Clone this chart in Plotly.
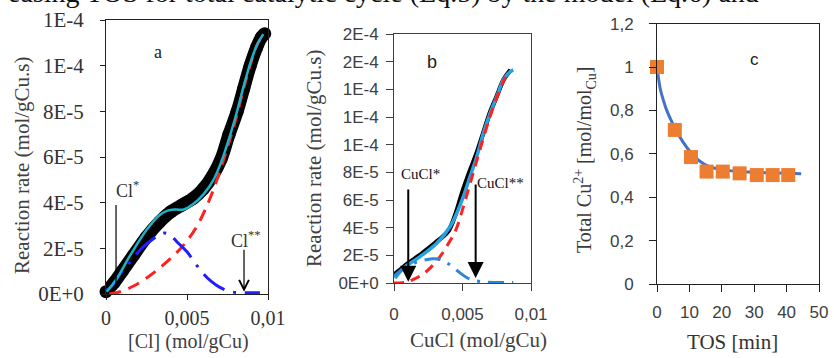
import plotly.graph_objects as go

W, H = 834, 358
def PX(x): return x / W
def PY(y): return 1 - y / H

SERIF = "Liberation Serif, Times New Roman, serif"
SANS = "Liberation Sans, Arial, sans-serif"

# ---------------- Panel a ----------------
a_exp_x = [0, 0.0005, 0.001, 0.0017, 0.0025, 0.0033, 0.004, 0.0047, 0.0054, 0.006,
           0.0066, 0.0071, 0.0076, 0.0081, 0.0085, 0.0089, 0.0093, 0.0096, 0.0098]
a_exp_y = [1e-6, 5e-6, 1.0e-5, 1.7e-5, 2.5e-5, 3.15e-5, 3.6e-5, 3.9e-5, 4.2e-5, 4.6e-5,
           5.2e-5, 5.9e-5, 7.0e-5, 8.0e-5, 9.0e-5, 1.0e-4, 1.08e-4, 1.125e-4, 1.14e-4]

a_tot_x = [0.00004, 0.0006, 0.0015, 0.0025, 0.0033, 0.0038, 0.0043, 0.0048, 0.0054, 0.006,
           0.0066, 0.0071, 0.00765, 0.00807, 0.00848, 0.00889, 0.0093, 0.00971]
a_tot_y = [1e-6, 6e-6, 1.7e-5, 2.8e-5, 3.45e-5, 3.65e-5, 3.7e-5, 3.7e-5, 3.95e-5, 4.35e-5,
           4.95e-5, 5.76e-5, 6.93e-5, 7.95e-5, 9.05e-5, 1.007e-4, 1.087e-4, 1.138e-4]

a_cl2_x = [0.0002, 0.00086, 0.0017, 0.0027, 0.0035, 0.0042, 0.0048, 0.0056, 0.0062, 0.0067,
           0.0072, 0.00765, 0.00807, 0.00848, 0.00889, 0.0093, 0.00971]
a_cl2_y = [0, 1e-6, 3.5e-6, 8e-6, 1.25e-5, 1.7e-5, 2.15e-5, 2.95e-5, 3.82e-5, 4.7e-5,
           5.76e-5, 6.78e-5, 7.8e-5, 8.97e-5, 9.99e-5, 1.087e-4, 1.138e-4]

a_cl1_x = [0, 0.0003, 0.0009, 0.0015, 0.0021, 0.0027, 0.0032, 0.0036, 0.004, 0.0045,
           0.005, 0.0055, 0.006, 0.0065, 0.007, 0.0077, 0.0085, 0.0095]
a_cl1_y = [1.5e-6, 3e-6, 9e-6, 1.4e-5, 1.93e-5, 2.3e-5, 2.55e-5, 2.67e-5, 2.55e-5, 2.2e-5,
           1.85e-5, 1.35e-5, 9e-6, 5.5e-6, 3e-6, 1e-6, 6e-7, 5e-7]

a_ytick_vals = [0, 2e-5, 4e-5, 6e-5, 8e-5, 1e-4, 1.2e-4]
a_ytick_text = ["0E+0", "2E-5", "4E-5", "6E-5", "8E-5", "1E-4", "1E-4"]
a_xtick_vals = [0, 0.005, 0.01]
a_xtick_text = ["0", "0,005", "0,01"]

# ---------------- Panel b ----------------
b_exp_x = [0, 0.0005, 0.001, 0.0015, 0.002, 0.0025, 0.003, 0.0035, 0.004, 0.0045,
           0.005, 0.0055, 0.006, 0.0065, 0.007, 0.0075, 0.008, 0.0085]
b_exp_y = [6e-6, 1.0e-5, 1.4e-5, 1.75e-5, 2.1e-5, 2.5e-5, 2.9e-5, 3.3e-5, 3.8e-5, 5.0e-5,
           6.6e-5, 8.0e-5, 9.3e-5, 1.08e-4, 1.23e-4, 1.35e-4, 1.47e-4, 1.54e-4]

b_tot_x = [0.00007, 0.00068, 0.0019, 0.00312, 0.00409, 0.00458, 0.00506, 0.00555, 0.00604,
           0.00652, 0.00701, 0.0075, 0.00798, 0.00847, 0.00871]
b_tot_y = [3.4e-6, 1.06e-5, 1.9e-5, 2.87e-5, 4.07e-5, 5.04e-5, 6.24e-5, 7.69e-5, 9.13e-5,
           1.082e-4, 1.227e-4, 1.347e-4, 1.468e-4, 1.528e-4, 1.54e-4]

b_cu2_x = [0, 0.0008, 0.0015, 0.0022, 0.0029, 0.0035, 0.004, 0.0045, 0.005, 0.0055,
           0.006, 0.0065, 0.007, 0.0075, 0.008, 0.0083]
b_cu2_y = [0, 5e-7, 3e-6, 7e-6, 1.35e-5, 2.1e-5, 2.9e-5, 3.8e-5, 5.3e-5, 7.0e-5,
           8.7e-5, 1.04e-4, 1.2e-4, 1.34e-4, 1.46e-4, 1.52e-4]

b_cu1_x = [0, 0.0007, 0.0014, 0.002, 0.0028, 0.0034, 0.0038, 0.0043, 0.0048, 0.0053,
           0.0058, 0.0065, 0.0075, 0.0087]
b_cu1_y = [5e-6, 1.05e-5, 1.4e-5, 1.6e-5, 1.75e-5, 1.7e-5, 1.5e-5, 1.15e-5, 7.5e-6, 4e-6,
           2e-6, 8e-7, 4e-7, 4e-7]

b_ytick_vals = [0, 2e-5, 4e-5, 6e-5, 8e-5, 1e-4, 1.2e-4, 1.4e-4, 1.6e-4, 1.8e-4]
b_ytick_text = ["0E+0", "2E-5", "4E-5", "6E-5", "8E-5", "1E-4", "1E-4", "1E-4", "2E-4", "2E-4"]
b_xtick_vals = [0, 0.005, 0.01]
b_xtick_text = ["0", "0,005", "0,01"]

# ---------------- Panel c ----------------
c_meas_x = [0, 5.5, 10.5, 15.3, 20.3, 25.5, 30.8, 35.7, 40.5]
c_meas_y = [1.0, 0.71, 0.585, 0.518, 0.518, 0.51, 0.502, 0.502, 0.502]
c_fit_x = [0, 1, 2, 3, 4.5, 6, 8, 10.5, 13, 16, 20, 25, 30, 35, 40, 44.5]
c_fit_y = [1.0, 0.9, 0.845, 0.8, 0.75, 0.705, 0.655, 0.605, 0.568, 0.542, 0.527, 0.519,
           0.515, 0.512, 0.51, 0.508]
c_ytick_vals = [0, 0.2, 0.4, 0.6, 0.8, 1.0, 1.2]
c_ytick_text = ["0", "0,2", "0,4", "0,6", "0,8", "1", "1,2"]
c_xtick_vals = [0, 10, 20, 30, 40, 50]
c_xtick_text = ["0", "10", "20", "30", "40", "50"]

fig = go.Figure()

# panel a traces
fig.add_trace(go.Scatter(x=a_exp_x, y=a_exp_y, mode="lines+markers", cliponaxis=False,
                         line=dict(color="black", width=13, shape="spline"),
                         marker=dict(color="black", size=13), xaxis="x", yaxis="y"))
fig.add_trace(go.Scatter(x=a_cl2_x, y=a_cl2_y, mode="lines",
                         line=dict(color="#FF2020", width=3, dash="12px,8px", shape="spline"),
                         xaxis="x", yaxis="y"))
fig.add_trace(go.Scatter(x=a_cl1_x, y=a_cl1_y, mode="lines",
                         line=dict(color="#1E1EFF", width=3, dash="26px,9px,3px,9px", shape="spline"),
                         xaxis="x", yaxis="y"))
fig.add_trace(go.Scatter(x=a_tot_x, y=a_tot_y, mode="lines",
                         line=dict(color="#1DB2C6", width=2.5, shape="spline"),
                         xaxis="x", yaxis="y"))

# panel b traces
fig.add_trace(go.Scatter(x=b_exp_x, y=b_exp_y, mode="lines",
                         line=dict(color="black", width=4.5, shape="spline"),
                         xaxis="x2", yaxis="y2"))
fig.add_trace(go.Scatter(x=b_tot_x, y=b_tot_y, mode="lines",
                         line=dict(color="#26A2E2", width=3.5, shape="spline"),
                         xaxis="x2", yaxis="y2"))
fig.add_trace(go.Scatter(x=b_cu2_x, y=b_cu2_y, mode="lines",
                         line=dict(color="#FF2020", width=3, dash="10px,7px", shape="spline"),
                         xaxis="x2", yaxis="y2"))
fig.add_trace(go.Scatter(x=b_cu1_x, y=b_cu1_y, mode="lines",
                         line=dict(color="#2F86D6", width=3, dash="16px,8px,3px,8px", shape="spline"),
                         xaxis="x2", yaxis="y2"))

# panel c traces
fig.add_trace(go.Scatter(x=c_fit_x, y=c_fit_y, mode="lines",
                         line=dict(color="#4472C4", width=3, shape="spline"),
                         xaxis="x3", yaxis="y3"))
fig.add_trace(go.Scatter(x=c_meas_x, y=c_meas_y, mode="markers", cliponaxis=False,
                         marker=dict(symbol="square", color="#ED7D31", size=14),
                         xaxis="x3", yaxis="y3"))

def ax(dom, anchor, vals, text, font, color, tlen, standoff, rng):
    return dict(domain=dom, anchor=anchor, range=rng, tickvals=vals, ticktext=text,
                showline=True, linecolor=color, linewidth=1, mirror=True,
                ticks="outside", ticklen=tlen, tickcolor=color, tickwidth=1,
                ticklabelstandoff=standoff, showgrid=False, zeroline=False,
                automargin=False, tickfont=font, fixedrange=True)

fa = dict(family=SERIF, size=21, color="#333333")
fa_x = dict(family=SERIF, size=20, color="#333333")
fb = dict(family=SANS, size=17, color="#404040")
fc = dict(family=SANS, size=17, color="#404040")

fig.update_layout(
    template="none",
    width=W, height=H, margin=dict(l=0, r=0, t=0, b=0, pad=0, autoexpand=False),
    paper_bgcolor="white", plot_bgcolor="white", showlegend=False,
    xaxis=ax([PX(106), PX(268)], "y", a_xtick_vals, a_xtick_text, fa_x, "#222222", 5, 1, [0, 0.01]),
    yaxis=ax([PY(294), PY(20)], "x", a_ytick_vals, a_ytick_text, fa, "#222222", 5, 12, [0, 1.2e-4]),
    xaxis2=ax([PX(394), PX(531)], "y2", b_xtick_vals, b_xtick_text, fb, "#404040", 7, 9, [0, 0.01]),
    yaxis2=ax([PY(283), PY(34)], "x2", b_ytick_vals, b_ytick_text, fb, "#404040", 7, 4, [0, 1.8e-4]),
    xaxis3=ax([PX(657), PX(819)], "y3", c_xtick_vals, c_xtick_text, fc, "#222222", 7, 6, [0, 50]),
    yaxis3=ax([PY(284), PY(23.6)], "x3", c_ytick_vals, c_ytick_text, fc, "#222222", 7, 12, [0, 1.2]),
)

ann = []
def txt(x, y, s, size, family=SERIF, color="#333333", angle=0):
    ann.append(dict(x=PX(x), y=PY(y), xref="paper", yref="paper", text=s, showarrow=False,
                    textangle=angle, font=dict(family=family, size=size, color=color),
                    xanchor="center", yanchor="middle"))

# cut-off caption line at the top of the picture
ann.append(dict(x=PX(6), y=PY(10), xref="paper", yref="paper",
                text="easing TOS for total catalytic cycle (Eq.5) by the model (Eq.6) and",
                showarrow=False, xanchor="left", yanchor="bottom",
                font=dict(family=SERIF, size=28, color="#111111")))

# panel a texts
txt(22, 165, "Reaction rate (mol/gCu.s)", 21, angle=-90, color="#404040")
txt(188, 341, "[Cl] (mol/gCu)", 20, color="#404040")
txt(158, 52, "a", 18, color="#222222")
txt(128, 189, "Cl<sup>*</sup>", 18, color="#333333")
txt(246, 240, "Cl<sup>**</sup>", 18, color="#333333")
# panel b texts
txt(314, 158, "Reaction rate (mol/gCu.s)", 21, angle=-90, color="#404040")
txt(478, 340, "CuCl (mol/gCu)", 21, color="#404040")
txt(432, 62, "b", 18, family=SANS, color="#222222")
txt(420, 174, "CuCl*", 15, color="#111111")
txt(500, 183, "CuCl**", 15, color="#111111")
# panel c texts
txt(585, 160, "Total Cu<sup>2+</sup> [mol/mol<sub>Cu</sub>]", 20, angle=-90, color="#3a3a3a")
txt(732, 342, "TOS [min]", 21, color="#333333")
txt(754, 59, "c", 17, family=SANS, color="#222222")

# arrows
ann.append(dict(x=0.00852, y=1e-6, ax=0.00852, ay=2e-5, xref="x", yref="y", axref="x", ayref="y",
                text="", showarrow=True, arrowhead=5, arrowsize=1.6, arrowwidth=1.2, arrowcolor="black"))
ann.append(dict(x=0.00104, y=9e-7, ax=0.00104, ay=6.87e-5, xref="x2", yref="y2", axref="x2", ayref="y2",
                text="", showarrow=True, arrowhead=2, arrowsize=1.6, arrowwidth=2, arrowcolor="black"))
ann.append(dict(x=0.00596, y=3.6e-6, ax=0.00596, ay=7.23e-5, xref="x2", yref="y2", axref="x2", ayref="y2",
                text="", showarrow=True, arrowhead=2, arrowsize=1.6, arrowwidth=2, arrowcolor="black"))
fig.update_layout(annotations=ann)

fig.add_shape(type="line", x0=0.00062, x1=0.00062, y0=3.9e-5, y1=2e-6, xref="x", yref="y",
              line=dict(color="black", width=1.2))

fig.write_html("out.html", config={"displayModeBar": False, "staticPlot": True},
               post_script="document.body.style.margin='0px';")
